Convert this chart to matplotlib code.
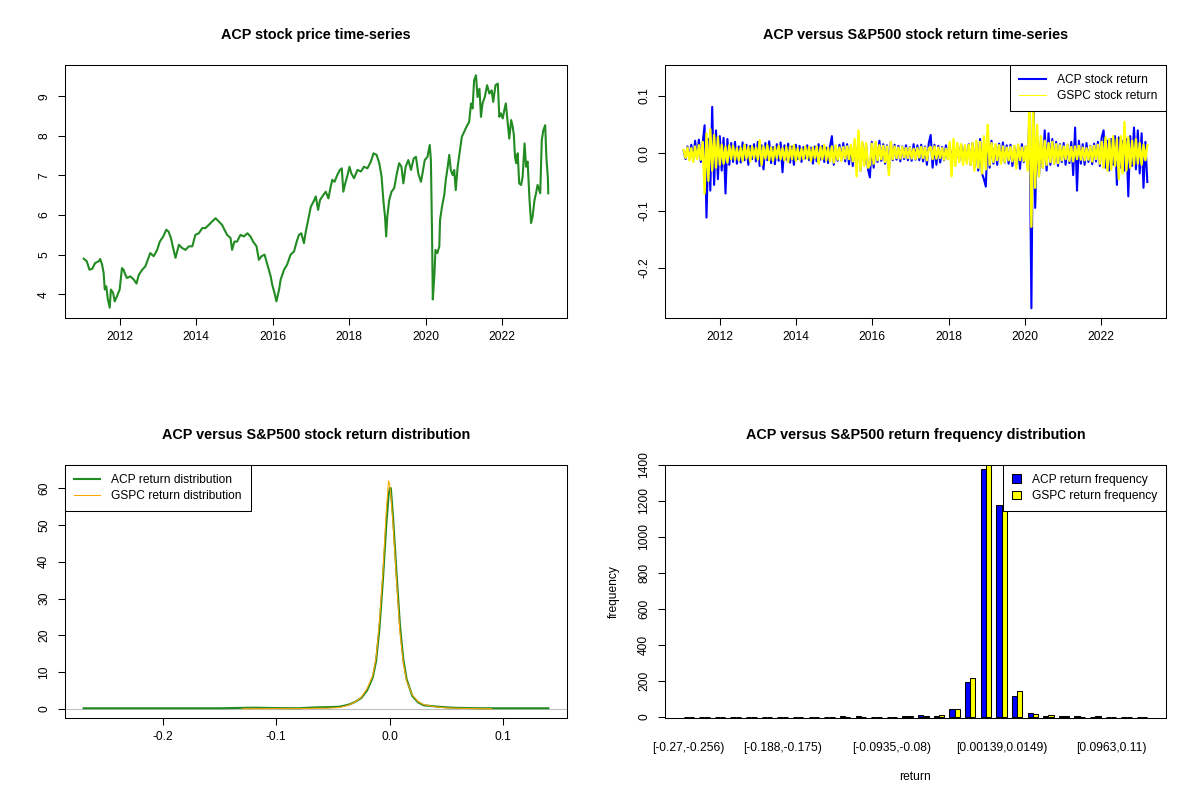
import numpy as np
import matplotlib
matplotlib.use("Agg")
from matplotlib import pyplot as plt
from matplotlib.lines import Line2D
from matplotlib.patches import Patch

plt.rcParams['font.family'] = ['Liberation Sans', 'DejaVu Sans']
plt.rcParams['font.size'] = 8.64

# ACP price (decimal year, close)
price_year = [2011.06, 2011.14, 2011.21, 2011.28, 2011.36, 2011.45, 2011.49, 2011.54, 2011.58, 2011.61,
              2011.65, 2011.69, 2011.74, 2011.77, 2011.83, 2011.87, 2011.93, 2012.00, 2012.06, 2012.10,
              2012.15, 2012.19, 2012.28, 2012.37, 2012.44, 2012.50, 2012.59, 2012.67, 2012.72, 2012.80,
              2012.89, 2012.98, 2013.05, 2013.14, 2013.22, 2013.28, 2013.34, 2013.41, 2013.46, 2013.55,
              2013.63, 2013.72, 2013.81, 2013.90, 2013.98, 2014.07, 2014.16, 2014.24, 2014.33, 2014.42,
              2014.51, 2014.59, 2014.68, 2014.74, 2014.81, 2014.90, 2014.94, 2015.00, 2015.07, 2015.16,
              2015.25, 2015.34, 2015.42, 2015.49, 2015.58, 2015.64, 2015.71, 2015.79, 2015.84, 2015.90,
              2015.95, 2015.99, 2016.05, 2016.10, 2016.17, 2016.21, 2016.30, 2016.38, 2016.47, 2016.56,
              2016.63, 2016.69, 2016.75, 2016.82, 2016.86, 2016.93, 2017.00, 2017.07, 2017.13, 2017.19,
              2017.24, 2017.33, 2017.39, 2017.46, 2017.52, 2017.56, 2017.62, 2017.69, 2017.76, 2017.81,
              2017.85, 2017.90, 2017.96, 2018.01, 2018.06, 2018.13, 2018.22, 2018.31, 2018.39, 2018.48,
              2018.57, 2018.64, 2018.72, 2018.79, 2018.85, 2018.90, 2018.94, 2018.97, 2019.00, 2019.05,
              2019.11, 2019.18, 2019.25, 2019.31, 2019.37, 2019.42, 2019.48, 2019.55, 2019.62, 2019.69,
              2019.75, 2019.81, 2019.88, 2019.92, 2019.98, 2020.05, 2020.11, 2020.14, 2020.17, 2020.19,
              2020.23, 2020.26, 2020.31, 2020.36, 2020.38, 2020.43, 2020.49, 2020.53, 2020.58, 2020.62,
              2020.66, 2020.71, 2020.75, 2020.79, 2020.84, 2020.90, 2020.95, 2021.01, 2021.07, 2021.14,
              2021.19, 2021.23, 2021.27, 2021.32, 2021.36, 2021.41, 2021.45, 2021.49, 2021.55, 2021.61,
              2021.67, 2021.73, 2021.77, 2021.83, 2021.89, 2021.93, 2021.97, 2022.02, 2022.06, 2022.10,
              2022.15, 2022.19, 2022.24, 2022.28, 2022.31, 2022.34, 2022.37, 2022.41, 2022.45, 2022.50,
              2022.54, 2022.59, 2022.63, 2022.67, 2022.72, 2022.76, 2022.80, 2022.85, 2022.89, 2022.93,
              2023.00, 2023.04, 2023.08, 2023.13, 2023.16, 2023.20, 2023.21]
price = [4.90, 4.83, 4.62, 4.64, 4.79, 4.83, 4.89, 4.75, 4.54, 4.12,
         4.20, 3.87, 3.66, 4.12, 4.03, 3.82, 3.95, 4.12, 4.66, 4.62,
         4.49, 4.41, 4.45, 4.37, 4.27, 4.49, 4.62, 4.70, 4.83, 5.04,
         4.96, 5.12, 5.33, 5.46, 5.63, 5.58, 5.42, 5.12, 4.92, 5.25,
         5.17, 5.12, 5.21, 5.21, 5.50, 5.54, 5.67, 5.67, 5.75, 5.84,
         5.92, 5.84, 5.75, 5.63, 5.50, 5.42, 5.12, 5.33, 5.33, 5.50,
         5.46, 5.54, 5.46, 5.33, 5.21, 4.87, 4.96, 5.00, 4.83, 4.62,
         4.45, 4.24, 4.03, 3.82, 4.12, 4.37, 4.62, 4.75, 5.00, 5.08,
         5.33, 5.50, 5.54, 5.29, 5.54, 5.88, 6.21, 6.34, 6.47, 6.13,
         6.38, 6.51, 6.59, 6.42, 6.72, 6.89, 6.84, 7.01, 7.14, 7.18,
         6.59, 6.80, 7.01, 7.22, 7.05, 6.93, 7.14, 7.10, 7.22, 7.18,
         7.35, 7.56, 7.52, 7.31, 6.97, 6.34, 5.96, 5.46, 5.96, 6.38,
         6.59, 6.68, 7.05, 7.31, 7.22, 6.80, 7.22, 7.39, 7.14, 7.43,
         7.47, 7.05, 6.84, 7.05, 7.39, 7.47, 7.77, 7.39, 5.54, 3.87,
         4.45, 5.12, 5.04, 5.21, 5.88, 6.21, 6.51, 6.89, 7.22, 7.52,
         7.14, 7.01, 7.14, 6.63, 7.22, 7.64, 7.98, 8.10, 8.23, 8.35,
         8.82, 8.69, 9.40, 9.53, 8.98, 9.19, 8.48, 8.82, 8.98, 9.28,
         9.07, 9.15, 8.86, 9.28, 9.32, 8.48, 8.57, 8.44, 8.65, 8.82,
         8.31, 7.93, 8.40, 8.23, 8.02, 7.47, 7.31, 7.56, 6.80, 6.76,
         6.97, 7.81, 7.22, 7.35, 6.38, 5.80, 5.96, 6.38, 6.55, 6.76,
         6.55, 7.89, 8.14, 8.27, 7.47, 6.93, 6.55]

acp_ret = [0.004, -0.010, 0.012, -0.009, 0.015, -0.012, 0.022, -0.008, 0.024, -0.015,
           0.018, 0.049, -0.112, 0.025, -0.065, 0.081, -0.055, 0.040, -0.045, 0.030,
           -0.030, 0.027, -0.070, 0.025, -0.020, 0.018, -0.015, 0.020, -0.018, 0.012,
           -0.016, 0.019, -0.012, 0.015, -0.020, 0.013, -0.010, 0.016, -0.014, 0.020,
           -0.022, 0.014, -0.028, 0.018, -0.012, 0.021, -0.017, 0.011, -0.019, 0.016,
           -0.013, 0.019, -0.033, 0.014, -0.011, 0.017, -0.016, 0.012, -0.020, 0.015,
           -0.010, 0.013, -0.015, 0.011, -0.009, 0.014, -0.012, 0.010, -0.018, 0.012,
           -0.014, 0.016, -0.011, 0.013, -0.015, 0.010, -0.017, 0.012, 0.030, -0.020,
           0.011, -0.013, 0.015, -0.012, 0.018, -0.014, 0.016, -0.019, 0.013, -0.022,
           0.020, -0.025, 0.026, -0.030, 0.018, -0.020, 0.015, -0.028, -0.042, 0.020,
           -0.025, 0.018, -0.015, 0.022, -0.013, 0.016, -0.018, 0.014, -0.030, 0.020,
           -0.012, 0.015, -0.011, 0.013, -0.014, 0.012, -0.010, 0.014, -0.012, 0.011,
           -0.013, 0.016, -0.011, 0.014, -0.012, 0.015, -0.014, 0.012, -0.020, 0.018,
           0.032, -0.025, 0.015, -0.020, 0.013, -0.016, 0.011, -0.012, 0.014, -0.010,
           0.013, -0.015, 0.012, -0.018, 0.010, -0.013, 0.015, -0.011, 0.012, -0.014,
           0.016, -0.020, 0.018, -0.025, 0.020, -0.030, 0.025, -0.035, -0.045, -0.058,
           0.030, -0.025, 0.022, -0.018, 0.015, -0.020, 0.017, -0.013, 0.019, -0.016,
           0.014, -0.018, 0.015, -0.022, 0.012, -0.020, 0.013, -0.027, 0.016, -0.015,
           0.012, -0.020, 0.070, -0.270, 0.137, -0.095, 0.030, -0.040, 0.020, -0.025,
           0.040, -0.030, 0.035, -0.020, 0.025, -0.018, 0.020, -0.022, 0.016, -0.015,
           0.018, -0.020, 0.015, -0.017, 0.020, -0.038, 0.045, -0.065, 0.022, -0.018,
           0.016, -0.020, 0.018, -0.015, 0.013, -0.019, 0.017, -0.014, 0.020, -0.022,
           0.028, 0.040, -0.025, 0.022, -0.030, 0.025, -0.020, 0.030, -0.055, 0.028,
           -0.025, 0.022, -0.030, 0.025, -0.075, 0.030, -0.022, 0.045, -0.028, 0.040,
           -0.035, 0.035, -0.060, 0.020, -0.050]
gspc_ret = [0.006, -0.008, 0.010, -0.012, 0.009, -0.015, 0.012, -0.010, 0.014, -0.011,
            0.020, -0.070, 0.035, -0.048, 0.042, -0.030, 0.032, -0.025, 0.028, -0.020,
            0.015, -0.018, 0.012, -0.016, 0.014, -0.010, 0.013, -0.011, 0.009, -0.012,
            0.010, -0.013, 0.015, -0.009, 0.011, -0.014, 0.012, -0.008, 0.010, -0.011,
            0.023, -0.020, 0.012, -0.009, 0.014, -0.012, 0.010, -0.013, 0.011, -0.008,
            0.013, -0.010, 0.009, -0.012, 0.011, -0.015, 0.012, -0.010, 0.014, -0.013,
            0.009, -0.011, 0.008, -0.010, 0.012, -0.009, 0.011, -0.013, 0.010, -0.008,
            0.012, -0.018, 0.011, -0.010, 0.015, -0.012, 0.010, -0.014, 0.012, -0.016,
            0.014, -0.011, 0.010, -0.013, 0.011, -0.009, 0.012, -0.010, 0.015, -0.014,
            0.025, -0.040, 0.040, -0.030, 0.020, -0.022, 0.018, -0.025, -0.020, 0.017,
            -0.018, 0.020, -0.012, 0.014, -0.010, 0.013, -0.015, 0.012, -0.038, 0.020,
            -0.010, 0.012, -0.008, 0.010, -0.009, 0.011, -0.007, 0.009, -0.008, 0.010,
            -0.009, 0.008, -0.010, 0.009, -0.007, 0.011, -0.008, 0.010, -0.012, 0.009,
            0.011, -0.010, 0.012, -0.009, 0.010, -0.008, 0.009, -0.011, 0.008, -0.010,
            0.020, -0.040, 0.025, -0.022, 0.018, -0.015, 0.016, -0.020, 0.014, -0.018,
            0.015, -0.020, 0.018, -0.030, 0.022, -0.025, 0.020, -0.035, 0.030, -0.028,
            0.050, -0.020, 0.018, -0.015, 0.016, -0.012, 0.014, -0.018, 0.012, -0.015,
            0.010, -0.012, 0.011, -0.014, 0.013, -0.026, 0.015, -0.012, 0.010, -0.013,
            0.012, -0.030, 0.090, -0.128, 0.080, -0.060, 0.050, -0.040, 0.030, -0.025,
            0.022, -0.020, 0.018, -0.015, 0.020, -0.018, 0.016, -0.017, 0.014, -0.012,
            0.012, -0.010, 0.015, -0.013, 0.011, -0.014, 0.012, -0.010, 0.013, -0.011,
            0.010, -0.012, 0.009, -0.011, 0.012, -0.014, 0.013, -0.010, 0.015, -0.018,
            0.020, -0.025, 0.028, -0.030, 0.025, -0.028, 0.030, -0.022, 0.025, -0.045,
            0.030, -0.035, 0.055, -0.030, 0.028, -0.025, 0.022, -0.020, 0.025, -0.018,
            0.018, -0.020, 0.015, -0.012, 0.014]
ret_year = np.linspace(2011.06, 2023.21, len(acp_ret))

# kernel density curves
acp_dens_x = [-0.27, -0.2, -0.15, -0.12, -0.1, -0.08, -0.065, -0.055, -0.045, -0.04, -0.035, -0.03,
              -0.025, -0.02, -0.015, -0.012, -0.009, -0.006, -0.003, -0.001, 0.0, 0.001, 0.003, 0.006,
              0.009, 0.012, 0.015, 0.02, 0.025, 0.03, 0.04, 0.05, 0.06, 0.08, 0.1, 0.14]
acp_dens_y = [0.2, 0.2, 0.2, 0.35, 0.25, 0.2, 0.45, 0.5, 0.6, 0.9, 1.3, 2.0,
              3.0, 5.0, 8.5, 13, 22, 35, 50, 58, 60, 60, 52, 37,
              23, 13.5, 8, 3.5, 1.8, 1.0, 0.7, 0.45, 0.3, 0.2, 0.2, 0.2]
gspc_dens_x = [-0.13, -0.1, -0.08, -0.065, -0.055, -0.045, -0.04, -0.035, -0.03, -0.025, -0.02,
               -0.015, -0.012, -0.009, -0.006, -0.003, -0.001, 0.0, 0.001, 0.003, 0.006, 0.009,
               0.012, 0.015, 0.02, 0.025, 0.03, 0.04, 0.05, 0.06, 0.075, 0.09]
gspc_dens_y = [0.05, 0.1, 0.1, 0.2, 0.2, 0.4, 0.7, 1.2, 2.0, 3.2, 5.5,
               9.0, 14, 24, 37, 54, 62, 61, 58, 50, 35, 21,
               12.5, 7.5, 3.8, 2.0, 1.2, 0.6, 0.3, 0.2, 0.1, 0.05]

# histogram of returns, 30 bins from -0.27 to 0.137
acp_freq = [1, 0, 0, 0, 0, 0, 0, 0, 0, 0, 4, 3, 0, 1, 4, 8, 5, 45, 195, 1375,
            1180, 118, 22, 6, 5, 4, 2, 1, 0, 1]
gspc_freq = [0, 0, 0, 0, 0, 0, 0, 0, 0, 0, 1, 2, 0, 0, 3, 3, 10, 45, 218, 1460,
             1160, 145, 15, 12, 4, 2, 5, 0, 1, 0]
shown_bins = [0, 6, 13, 20, 27]
shown_labels = ['[-0.27,-0.256)', '[-0.188,-0.175)', '[-0.0935,-0.08)',
                '[0.00139,0.0149)', '[0.0963,0.11)']

fig = plt.figure(figsize=(12, 8), dpi=100)
W, H = 1200, 800


def add_ax(l, t, r, b):
    return fig.add_axes([l / W, 1 - b / H, (r - l) / W, (b - t) / H])


ax1 = add_ax(65, 65, 567, 318)
ax2 = add_ax(665, 65, 1166, 318)
ax3 = add_ax(65, 465, 567, 718)
ax4 = add_ax(665, 465, 1166, 718)

for ax in (ax1, ax2, ax3, ax4):
    for s in ax.spines.values():
        s.set_linewidth(0.75)
    ax.tick_params(direction='out', length=5.2, width=0.75, pad=4.5, labelsize=8.64)
    ax.tick_params(axis='y', labelrotation=90, pad=5.5)

title_kw = dict(fontsize=10.4, fontweight='bold', pad=18.5)


def r_legend(ax, handles, loc, **kw):
    leg = ax.legend(handles=handles, loc=loc, fancybox=False, edgecolor='black', framealpha=1,
                    borderaxespad=0, fontsize=8.64, borderpad=0.75, labelspacing=0.35,
                    handletextpad=0.9, **kw)
    leg.get_frame().set_linewidth(0.75)
    return leg


# price
ax1.plot(price_year, price, color='forestgreen', lw=1.5)
ax1.set_xlim(2010.57, 2023.70)
ax1.set_ylim(3.40, 9.79)
ax1.set_xticks([2012, 2014, 2016, 2018, 2020, 2022])
ax1.set_yticks([4, 5, 6, 7, 8, 9])
ax1.set_title('ACP stock price time-series', **title_kw)

# returns
ax2.plot(ret_year, acp_ret, color='blue', lw=1.5)
ax2.plot(ret_year, gspc_ret, color='yellow', lw=1.7)
ax2.set_xlim(2010.57, 2023.70)
ax2.set_ylim(-0.287, 0.154)
ax2.set_xticks([2012, 2014, 2016, 2018, 2020, 2022])
ax2.set_yticks([-0.2, -0.1, 0.0, 0.1])
ax2.set_yticklabels(['-0.2', '-0.1', '0.0', '0.1'])
ax2.set_title('ACP versus S&P500 stock return time-series', **title_kw)
r_legend(ax2, [Line2D([], [], color='blue', lw=1.5, label='ACP stock return'),
               Line2D([], [], color='yellow', lw=0.75, label='GSPC stock return')],
         'upper right', handlelength=2.2)

# density
ax3.axhline(0, color='#BEBEBE', lw=0.75)
ax3.plot(acp_dens_x, acp_dens_y, color='forestgreen', lw=1.5)
ax3.plot(gspc_dens_x, gspc_dens_y, color='orange', lw=0.75)
ax3.set_xlim(-0.2864, 0.1564)
ax3.set_ylim(-2.45, 66.3)
ax3.set_xticks([-0.2, -0.1, 0.0, 0.1])
ax3.set_xticklabels(['-0.2', '-0.1', '0.0', '0.1'])
ax3.set_yticks([0, 10, 20, 30, 40, 50, 60])
ax3.set_title('ACP versus S&P500 stock return distribution', **title_kw)
r_legend(ax3, [Line2D([], [], color='forestgreen', lw=1.5, label='ACP return distribution'),
               Line2D([], [], color='orange', lw=0.75, label='GSPC return distribution')],
         'upper left', handlelength=2.2)

# frequency bars (R barplot beside=TRUE layout)
grp = np.arange(len(acp_freq)) * 3
ax4.bar(grp + 1, acp_freq, width=1, align='edge', color='blue', edgecolor='black', lw=0.75)
ax4.bar(grp + 2, gspc_freq, width=1, align='edge', color='yellow', edgecolor='black', lw=0.75)
ax4.set_xlim(-2.56, 93.56)
ax4.set_ylim(-6, 1400)
ax4.set_yticks(range(0, 1401, 200))
ax4.set_xticks([3 * i + 2 for i in shown_bins])
ax4.set_xticklabels(shown_labels)
ax4.tick_params(axis='x', length=0, pad=17)
ax4.set_xlabel('return', fontsize=8.64)
ax4.set_ylabel('frequency', fontsize=8.64)
ax4.xaxis.set_label_coords(0.5, -0.21)
ax4.yaxis.set_label_coords(-0.09, 0.5)
ax4.set_title('ACP versus S&P500 return frequency distribution', **title_kw)
r_legend(ax4, [Patch(facecolor='blue', edgecolor='black', lw=0.75, label='ACP return frequency'),
               Patch(facecolor='yellow', edgecolor='black', lw=0.75, label='GSPC return frequency')],
         'upper right', handlelength=0.75, handleheight=0.75)

for ax in (ax1, ax2, ax3, ax4):
    for lab in ax.get_yticklabels():
        lab.set_va('center')

fig.savefig('out.png', dpi=100)
